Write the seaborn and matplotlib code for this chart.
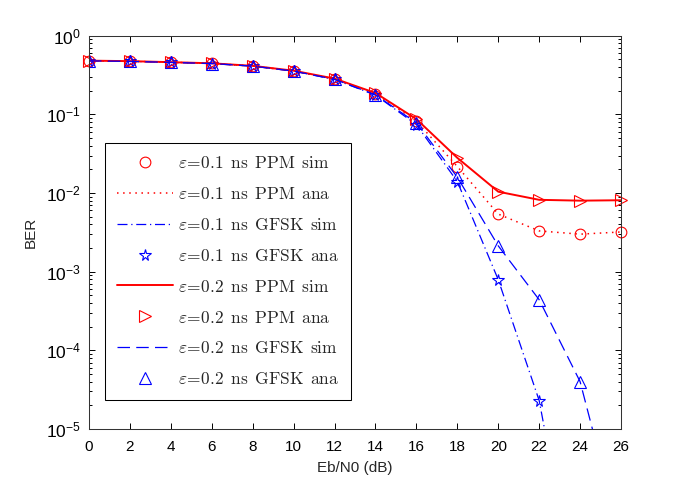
import numpy as np
import matplotlib
matplotlib.use("Agg")
import matplotlib.pyplot as plt
import seaborn as sns
from matplotlib.font_manager import FontProperties
from matplotlib.ticker import LogLocator, NullFormatter

# Data
snr_db = [0, 2, 4, 6, 8, 10, 12, 14, 16, 18, 20, 22, 24, 26]

ppm_01 = [0.481, 0.474, 0.460, 0.445, 0.412, 0.357, 0.282, 0.184, 0.082,
          0.0217, 0.0054, 0.0033, 0.0030, 0.0032]
gfsk_01 = [0.479, 0.472, 0.458, 0.442, 0.410, 0.354, 0.278, 0.176, 0.074,
           0.0140, 7.9e-4, 2.3e-5, 4e-8, 1e-10]
ppm_02 = [0.482, 0.475, 0.461, 0.446, 0.414, 0.359, 0.285, 0.187, 0.087,
          0.0280, 0.0104, 0.0082, 0.0080, 0.0081]
gfsk_02 = [0.479, 0.472, 0.458, 0.443, 0.411, 0.355, 0.279, 0.177, 0.078,
           0.0159, 2.13e-3, 4.4e-4, 4.0e-5, 4e-7]

sp = r"\ \,"
labels = [rf"$\varepsilon\!=\!0.1{sp}\mathrm{{ns}}{sp}\mathrm{{PPM}}{sp}\mathrm{{sim}}$",
          rf"$\varepsilon\!=\!0.1{sp}\mathrm{{ns}}{sp}\mathrm{{PPM}}{sp}\mathrm{{ana}}$",
          rf"$\varepsilon\!=\!0.1{sp}\mathrm{{ns}}{sp}\mathrm{{GFSK}}{sp}\mathrm{{sim}}$",
          rf"$\varepsilon\!=\!0.1{sp}\mathrm{{ns}}{sp}\mathrm{{GFSK}}{sp}\mathrm{{ana}}$",
          rf"$\varepsilon\!=\!0.2{sp}\mathrm{{ns}}{sp}\mathrm{{PPM}}{sp}\mathrm{{sim}}$",
          rf"$\varepsilon\!=\!0.2{sp}\mathrm{{ns}}{sp}\mathrm{{PPM}}{sp}\mathrm{{ana}}$",
          rf"$\varepsilon\!=\!0.2{sp}\mathrm{{ns}}{sp}\mathrm{{GFSK}}{sp}\mathrm{{sim}}$",
          rf"$\varepsilon\!=\!0.2{sp}\mathrm{{ns}}{sp}\mathrm{{GFSK}}{sp}\mathrm{{ana}}$"]

sns.set_style("ticks")
plt.rcParams["font.family"] = ["Liberation Sans", "DejaVu Sans"]
plt.rcParams["mathtext.fontset"] = "custom"
plt.rcParams["mathtext.rm"] = "Liberation Sans"
plt.rcParams["mathtext.it"] = "Liberation Sans:italic"
plt.rcParams["mathtext.bf"] = "Liberation Sans:bold"

fig = plt.figure(figsize=(6.85, 4.84), dpi=100)
ax = fig.add_axes([0.13, 0.1136, 0.7766, 0.8126])

red = (1, 0, 0)
blue = (0, 0, 1)
mk = dict(linestyle="none", markerfacecolor="none", markeredgewidth=0.8)

# 0.1 ns PPM sim (circles)
sns.lineplot(x=snr_db, y=ppm_01, ax=ax, marker="o", markersize=7.7,
             markeredgecolor=red, color=red, label=labels[0], clip_on=False, **mk)
# 0.1 ns PPM ana (dotted)
sns.lineplot(x=snr_db, y=ppm_01, ax=ax, color=red, lw=1.1,
             linestyle=(0, (1, 3)), label=labels[1])
# 0.1 ns GFSK sim (dash-dot)
sns.lineplot(x=snr_db, y=gfsk_01, ax=ax, color=blue, lw=0.9,
             linestyle=(0, (8, 3, 1, 3)), label=labels[2])
# 0.1 ns GFSK ana (stars)
sns.lineplot(x=snr_db, y=gfsk_01, ax=ax, marker="*", markersize=8.5,
             markeredgecolor=blue, color=blue, label=labels[3], **mk)
# 0.2 ns PPM sim (solid)
sns.lineplot(x=snr_db, y=ppm_02, ax=ax, color=red, lw=1.4, label=labels[4])
# 0.2 ns PPM ana (right triangles)
sns.lineplot(x=snr_db, y=ppm_02, ax=ax, marker=">", markersize=8,
             markeredgecolor=red, color=red, label=labels[5], clip_on=False, **mk)
# 0.2 ns GFSK sim (dashed)
sns.lineplot(x=snr_db, y=gfsk_02, ax=ax, color=blue, lw=0.9,
             linestyle=(0, (10, 5)), label=labels[6])
# 0.2 ns GFSK ana (up triangles)
sns.lineplot(x=snr_db, y=gfsk_02, ax=ax, marker="^", markersize=8,
             markeredgecolor=blue, color=blue, label=labels[7], **mk)

ax.set_yscale("log")
ax.set_xlim(0, 26)
ax.set_ylim(1e-5, 1)
ax.set_xticks(np.arange(0, 27, 2))
ax.yaxis.set_major_locator(LogLocator(base=10, numticks=10))
ax.yaxis.set_minor_locator(LogLocator(base=10, subs=np.arange(2, 10), numticks=20))
ax.yaxis.set_minor_formatter(NullFormatter())
ax.tick_params(which="both", direction="in", top=True, right=True,
               width=0.7, colors="black")
ax.tick_params(which="major", length=4, pad=6)
ax.tick_params(which="minor", length=2.2)
ax.tick_params(axis="x", labelsize=11, pad=8)
ax.tick_params(axis="y", labelsize=12.5)
for s in ax.spines.values():
    s.set_visible(True)
    s.set_linewidth(0.75)
    s.set_color("#333333")

ax.set_xlabel("Eb/N0 (dB)", fontsize=11, labelpad=5)
ax.set_ylabel("BER", fontsize=11, labelpad=6)

leg_font = FontProperties(size=12.5, math_fontfamily="cm")
leg = ax.legend(loc="upper left", bbox_to_anchor=(0.030, 0.728), borderaxespad=0,
                prop=leg_font, handlelength=3.2, handletextpad=0.3,
                labelspacing=0.86, borderpad=0.7, fancybox=False,
                framealpha=1, edgecolor="black", numpoints=1)
leg.get_frame().set_linewidth(0.75)

fig.savefig("out.png", dpi=100)
